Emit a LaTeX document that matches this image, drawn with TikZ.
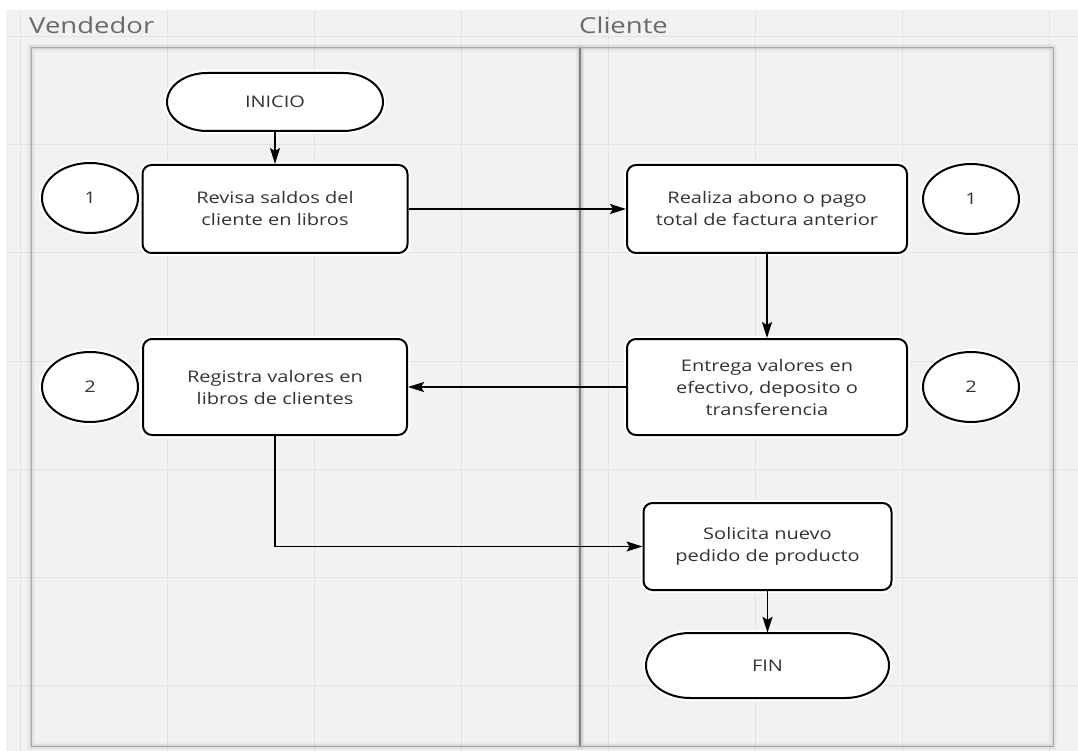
\documentclass[tikz,border=0pt]{standalone}
\usepackage{fontspec}
\setmainfont{Open Sans}[FakeStretch=1.25]
\usetikzlibrary{arrows.meta,shapes.geometric}
\definecolor{bgc}{HTML}{F2F2F2}
\definecolor{gridc}{HTML}{E3E3E3}
\definecolor{txt}{HTML}{333333}
\definecolor{hdr}{HTML}{6A6A6A}
\definecolor{lanec}{HTML}{A8A8A8}
\begin{document}
\begin{tikzpicture}[x=1pt,y=-1pt,
  glow/.style={preaction={draw=white,line width=6pt}},
  box/.style={draw=black,line width=2pt,fill=white,rounded corners=9pt,glow,
    text=txt,align=center,font=\fontsize{16}{22}\selectfont,inner sep=0pt},
  conn/.style={draw=black,line width=2pt,fill=white,ellipse,glow,
    minimum width=96pt,minimum height=70pt,inner sep=0pt,text=txt,
    font=\fontsize{16}{22}\selectfont},
  term/.style={draw=black,line width=2pt,fill=white,glow},
  termtext/.style={text=txt,font=\fontsize{16}{22}\selectfont,inner sep=0pt},
  arr/.style={line width=1.5pt,-{Stealth[length=16pt,width=10pt,inset=3pt]}},
  hdrtext/.style={text=hdr,font=\fontsize{22}{26}\selectfont,inner sep=0pt,anchor=base west},
  lane/.style={draw=lanec,line width=1pt}
]
\useasboundingbox (0,0) rectangle (1078,751);
\fill[white] (0,0) rectangle (1078,751);
\fill[bgc] (6,10) rectangle (1078,751);
% grid
\foreach \gx in {20,167,314,461,608,755,902,1049}
  \draw[gridc,line width=1pt] (\gx,10) -- (\gx,751);
\foreach \gy in {37,145,253,361,469,577,685}
  \draw[gridc,line width=1pt] (6,\gy) -- (1078,\gy);
% headers
\node[hdrtext] (hv) at (29,34) {Vendedor};
\node[hdrtext] (hc) at (579,34) {Cliente};
% lanes with soft shadow
\foreach \w/\o in {8/0.025,5/0.04,2.5/0.06}{
  \draw[black,opacity=\o,line width=\w pt] (31,48) rectangle (580,746);
  \draw[black,opacity=\o,line width=\w pt] (580,48) rectangle (1053,746);
}
\draw[lane] (31,48) rectangle (580,746);
\draw[lane] (580,48) rectangle (1053,746);
\draw[draw=black!50,line width=1.2pt] (580,48) -- (580,746);
% terminals
\draw[term] (207,73) -- (343,73) arc[start angle=-90,end angle=90,x radius=40,y radius=29]
  -- (207,131) arc[start angle=90,end angle=270,x radius=40,y radius=29] -- cycle;
\node[termtext,minimum width=216pt,minimum height=58pt] (inicio) at (275,102) {INICIO};
\draw[term] (690,633) -- (845,633) arc[start angle=-90,end angle=90,x radius=44,y radius=32.5]
  -- (690,698) arc[start angle=90,end angle=270,x radius=44,y radius=32.5] -- cycle;
\node[termtext,minimum width=243pt,minimum height=65pt] (fin) at (767.5,665.5) {FIN};
% process boxes
\node[box,minimum width=265pt,minimum height=88pt] (revisa) at (275,209)
  {Revisa saldos del\\cliente en libros};
\node[box,minimum width=280pt,minimum height=88pt] (realiza) at (767,209)
  {Realiza abono o pago\\total de factura anterior};
\node[box,minimum width=264pt,minimum height=96pt] (registra) at (275,387)
  {Registra valores en\\libros de clientes};
\node[box,minimum width=280pt,minimum height=96pt] (entrega) at (767,387)
  {Entrega valores en\\efectivo, deposito o\\transferencia};
\node[box,minimum width=248pt,minimum height=87pt] (solicita) at (767.5,546.5)
  {Solicita nuevo\\pedido de producto};
% connectors (off-page)
\node[conn] (c1l) at (90,198) {1};
\node[conn] (c1r) at (971,199) {1};
\node[conn] (c2l) at (90,387) {2};
\node[conn] (c2r) at (971,387) {2};
% arrows
\draw[arr] (inicio.south) -- (revisa.north);
\draw[arr] (revisa.east) -- (realiza.west);
\draw[arr] (realiza.south) -- (entrega.north);
\draw[arr] (entrega.west) -- (registra.east);
\draw[arr] (registra.south) |- (solicita.west);
\draw[arr] (solicita.south) -- (fin.north);
\end{tikzpicture}
\end{document}
